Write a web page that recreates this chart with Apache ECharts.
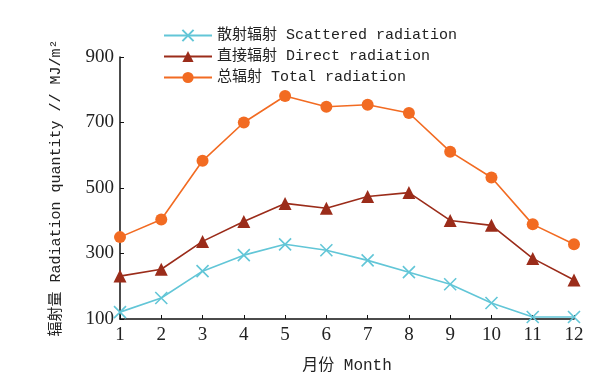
<!DOCTYPE html>
<html><head><meta charset="utf-8">
<script src="https://cdn.jsdelivr.net/npm/echarts@6/dist/echarts.min.js"></script>
<style>html,body{margin:0;padding:0;background:#fff}#c{width:612px;height:379px}</style>
</head><body><div id="c"></div>
<script>
const months = ['1','2','3','4','5','6','7','8','9','10','11','12'];
const scattered = [121,164,246,295,328,310,279,243,206,149,106,106];
const direct = [231,252,337,398,453,438,474,486,401,386,285,219];
const total = [350,404,583,700,781,748,754,729,611,532,389,328];
const yTicks = [100,300,500,700,900];
const names = ['散射辐射 Scattered radiation','直接辐射 Direct radiation','总辐射 Total radiation'];

const FONT = '"Liberation Mono", "Noto Sans CJK SC", monospace';
const SERIF = '"Liberation Serif", "Noto Sans CJK SC", serif';
const cCyan = '#62c6d7', cRed = '#9b2c1a', cOrange = '#f26b22';
const chart = echarts.init(document.getElementById('c'));
chart.setOption({
  backgroundColor: '#fff',
  animation: false,
  legend: {
    orient: 'vertical', left: 158, top: 23, itemWidth: 48, itemHeight: 14, itemGap: 6,
    textStyle: {fontFamily: FONT, fontSize: 15, color: '#222'},
    data: names
  },
  grid: {left: 120, right: 38, top: 57, bottom: 59},
  xAxis: {
    type: 'category', data: months, boundaryGap: false,
    axisLine: {lineStyle: {color: '#111', width: 1.5}},
    axisTick: {inside: true, length: 4, alignWithLabel: true, lineStyle: {color: '#111'}},
    axisLabel: {fontFamily: SERIF, fontSize: 19, color: '#222', margin: 7},
    name: '月份 Month', nameLocation: 'middle', nameGap: 39,
    nameTextStyle: {fontFamily: FONT, fontSize: 16, color: '#222'}
  },
  yAxis: {
    type: 'value', min: 100, max: 900,
    splitLine: {show: false},
    axisLine: {show: true, lineStyle: {color: '#111', width: 1.5}},
    axisTick: {show: true, inside: true, length: 4, customValues: yTicks, lineStyle: {color: '#111'}},
    axisLabel: {fontFamily: SERIF, fontSize: 19, color: '#222', margin: 6, customValues: yTicks},
    name: '辐射量 Radiation quantity // MJ/m²', nameLocation: 'middle', nameGap: 56,
    nameTextStyle: {fontFamily: FONT, fontSize: 15, color: '#222'}
  },
  series: [
    {name: names[0], type: 'line', data: scattered, symbol: 'path://M0,0L10,10M10,0L0,10', symbolSize: 12,
     lineStyle: {color: cCyan, width: 1.6}, itemStyle: {color: cCyan, borderColor: cCyan, borderWidth: 1.6}},
    {name: names[1], type: 'line', data: direct, symbol: 'triangle', symbolSize: 13,
     lineStyle: {color: cRed, width: 1.6}, itemStyle: {color: cRed, borderColor: cRed, borderWidth: 0}},
    {name: names[2], type: 'line', data: total, symbol: 'circle', symbolSize: 12,
     lineStyle: {color: cOrange, width: 1.6}, itemStyle: {color: cOrange, borderColor: cOrange, borderWidth: 0}}
  ]
});
</script></body></html>
